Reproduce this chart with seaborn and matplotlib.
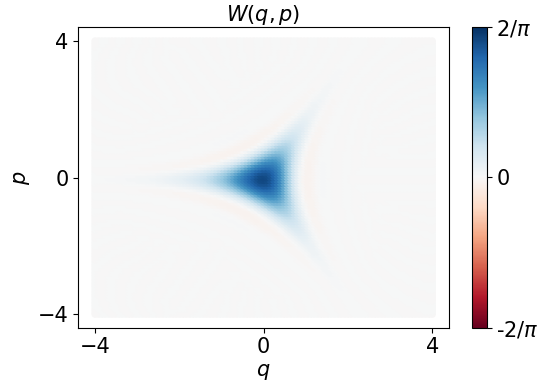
import numpy as np
import pandas as pd
import matplotlib
matplotlib.use("Agg")
import matplotlib.pyplot as plt
import seaborn as sns

# ---- data description ----
q_ticks = [-4, 0, 4]
p_ticks = [-4, 0, 4]
cbar_ticks = [2 / np.pi, 0.0, -2 / np.pi]
cbar_labels = ["2/$\\pi$", "0", "-2/$\\pi$"]
grid_min, grid_max, grid_n = -4.0, 4.0, 101
# trisqueezed vacuum: exp(r (e^{i th} a^+3 - e^{-i th} a^3)) |0>
tri_r = 0.1
fock_dim = 60
phase_options = [0.0, np.pi / 2, np.pi, 3 * np.pi / 2]


def trisqueezed_state(r, th, N):
    a = np.diag(np.sqrt(np.arange(1, N)), 1).astype(complex)
    a3 = a @ a @ a
    K = r * (np.exp(1j * th) * a3.conj().T - np.exp(-1j * th) * a3)
    H = 1j * K  # Hermitian
    w, V = np.linalg.eigh(H)
    U = V @ np.diag(np.exp(-1j * w)) @ V.conj().T
    psi = U[:, 0]
    return np.outer(psi, psi.conj())


def wigner(rho, xvec, yvec, g=2.0):
    M = rho.shape[0]
    X, Y = np.meshgrid(xvec, yvec)
    A = 0.5 * g * (X + 1.0j * Y)
    Wl = [None] * M
    Wl[0] = np.exp(-2.0 * np.abs(A) ** 2) / np.pi + 0j
    W = np.real(rho[0, 0]) * np.real(Wl[0])
    for n in range(1, M):
        Wl[n] = (2.0 * A * Wl[n - 1]) / np.sqrt(n)
        W += 2 * np.real(rho[0, n] * Wl[n])
    for m in range(1, M):
        temp = Wl[m].copy()
        Wl[m] = (2 * np.conj(A) * temp - np.sqrt(m) * Wl[m - 1]) / np.sqrt(m)
        W += np.real(rho[m, m] * Wl[m])
        for n in range(m + 1, M):
            temp2 = (2 * A * Wl[n - 1] - np.sqrt(m) * temp) / np.sqrt(n)
            temp = Wl[n].copy()
            Wl[n] = temp2
            W += 2 * np.real(rho[m, n] * Wl[n])
    return 0.5 * W * g ** 2


# choose the orientation with an arm along negative q
best = None
for th in phase_options:
    rho_t = trisqueezed_state(tri_r, th, fock_dim)
    score = wigner(rho_t, np.array([-1.5, -2.0]), np.array([0.0]))[0].sum()
    if best is None or score > best[0]:
        best = (score, th)
rho = trisqueezed_state(tri_r, best[1], fock_dim)

qv = np.linspace(grid_min, grid_max, grid_n)
pv = np.linspace(grid_min, grid_max, grid_n)
Wg = wigner(rho, qv, pv)
Q, P = np.meshgrid(qv, pv)
df = pd.DataFrame({"q": Q.ravel(), "p": P.ravel(), "W": Wg.ravel()})

plt.rcParams["font.family"] = ["DejaVu Sans"]
plt.rcParams["font.size"] = 15

fig = plt.figure(figsize=(5.39, 3.92), dpi=100)
ax = fig.add_axes([0.1453, 0.164, 0.6877, 0.766])
vmax = 2 / np.pi
sns.scatterplot(data=df, x="q", y="p", hue="W", palette="RdBu",
                hue_norm=(-vmax, vmax), marker="o", s=30, linewidth=0,
                legend=False, ax=ax)
ax.set_xticks(q_ticks)
ax.set_yticks(p_ticks)
ax.set_xlabel("$q$", labelpad=3)
ax.set_ylabel("$p$", labelpad=4)
ax.set_title("$W(q,p)$", fontsize=15, pad=4)

cax = fig.add_axes([0.875, 0.164, 0.028, 0.768])
sm = matplotlib.cm.ScalarMappable(cmap="RdBu",
                                  norm=matplotlib.colors.Normalize(-vmax, vmax))
cb = fig.colorbar(sm, cax=cax)
cb.set_ticks(cbar_ticks)
cb.set_ticklabels(cbar_labels)

fig.savefig("out.png", dpi=100)
